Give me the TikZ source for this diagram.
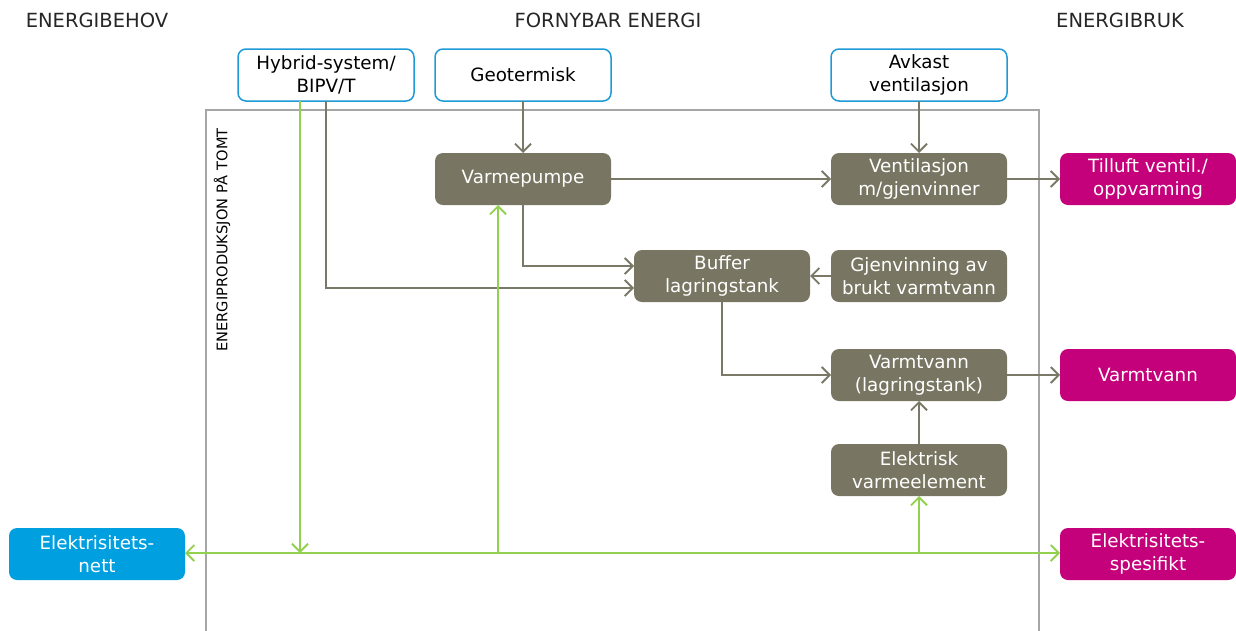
\documentclass[tikz,border=0pt]{standalone}
\usepackage{fontspec}
\setmainfont{DejaVu Sans}
\usetikzlibrary{arrows.meta}
\definecolor{boxgray}{HTML}{787662}
\definecolor{linegray}{HTML}{7A7866}
\definecolor{framegray}{HTML}{A6A6A6}
\definecolor{srcblue}{HTML}{1E9AD6}
\definecolor{gridblue}{HTML}{009FE0}
\definecolor{usemag}{HTML}{C5007B}
\definecolor{elgreen}{HTML}{92D050}
\tikzset{
  every node/.style={inner sep=0pt, outer sep=0pt},
  base/.style={minimum width=176pt, minimum height=52pt, rounded corners=8pt,
    align=center, font=\fontsize{18.3}{22.5}\selectfont},
  srcbox/.style={base, draw=srcblue, line width=1.5pt, fill=white, text=black},
  procbox/.style={base, fill=boxgray, text=white},
  usebox/.style={base, fill=usemag, text=white},
  gridbox/.style={base, fill=gridblue, text=white},
  head/.style={font=\fontsize{19.5}{23}\selectfont, text=black!85},
  flow/.style={draw=linegray, line width=2pt, -{Straight Barb[length=8pt,width=16pt,line width=1.8pt]}},
  elec/.style={draw=elgreen, line width=2pt, -{Straight Barb[length=8pt,width=16pt,line width=1.8pt]}},
  elecplain/.style={draw=elgreen, line width=2pt},
}
\begin{document}
\begin{tikzpicture}[x=1pt,y=-1pt]
\useasboundingbox (0,0) rectangle (1236,630);

% column headings
\node[head] (hbehov) at (97,20) {ENERGIBEHOV};
\node[head] (hfornybar) at (608,20) {FORNYBAR ENERGI};
\node[head] (hbruk) at (1120,20) {ENERGIBRUK};

% on-site production frame (open at the bottom)
\draw[framegray, line width=2pt] (206,632) -- (206,110) -- (1039,110) -- (1039,632);
\node[rotate=90, font=\fontsize{14.6}{16}\selectfont, text=black] (tomt) at (222,240) {ENERGIPRODUKSJON PÅ TOMT};

% renewable sources
\node[srcbox] (hybrid) at (326,75) {Hybrid-system/\\BIPV/T};
\node[srcbox] (geo) at (523,75) {Geotermisk};
\node[srcbox] (avkast) at (919,75) {Avkast\\ventilasjon};

% process units
\node[procbox] (vp) at (523,179) {Varmepumpe};
\node[procbox] (vent) at (919,179) {Ventilasjon\\m/gjenvinner};
\node[procbox] (buffer) at (722,276) {Buffer\\lagringstank};
\node[procbox] (gjenv) at (919,276) {Gjenvinning av\\brukt varmtvann};
\node[procbox] (vvtank) at (919,375) {Varmtvann\\(lagringstank)};
\node[procbox] (elem) at (919,470) {Elektrisk\\varmeelement};

% end uses and grid
\node[usebox] (tilluft) at (1148,179) {Tilluft ventil./\\oppvarming};
\node[usebox] (vv) at (1148,375) {Varmtvann};
\node[usebox] (elspes) at (1148,554) {Elektrisitets-\\spesifikt};
\node[gridbox] (nett) at (97,554) {Elektrisitets-\\nett};

% heat and air flows
\draw[flow] (geo.south) -- (vp.north);
\draw[flow] (avkast.south) -- (vent.north);
\draw[flow] (vp.east) -- (vent.west);
\draw[flow] (vent.east) -- (tilluft.west);
\draw[flow] (vp.south) |- ([yshift=10pt]buffer.west);
\draw[flow] (hybrid.south) |- ([yshift=-12pt]buffer.west);
\draw[flow] (gjenv.west) -- (buffer.east);
\draw[flow] (buffer.south) |- (vvtank.west);
\draw[flow] (vvtank.east) -- (vv.west);
\draw[flow] (elem.north) -- (vvtank.south);

% electricity bus
\coordinate (pvtap) at (300,553);
\coordinate (vptap) at (498,553);
\coordinate (eltap) at (919,553);
\draw[elec] ([xshift=-26pt]hybrid.south) -- (pvtap);
\draw[elec] (vptap) -- ([xshift=-25pt]vp.south);
\draw[elec] (eltap) -- (elem.south);
\draw[elecplain, {Straight Barb[length=8pt,width=16pt,line width=1.8pt]}-{Straight Barb[length=8pt,width=16pt,line width=1.8pt]}] (nett.east |- pvtap) -- (elspes.west |- pvtap);
\end{tikzpicture}
\end{document}
